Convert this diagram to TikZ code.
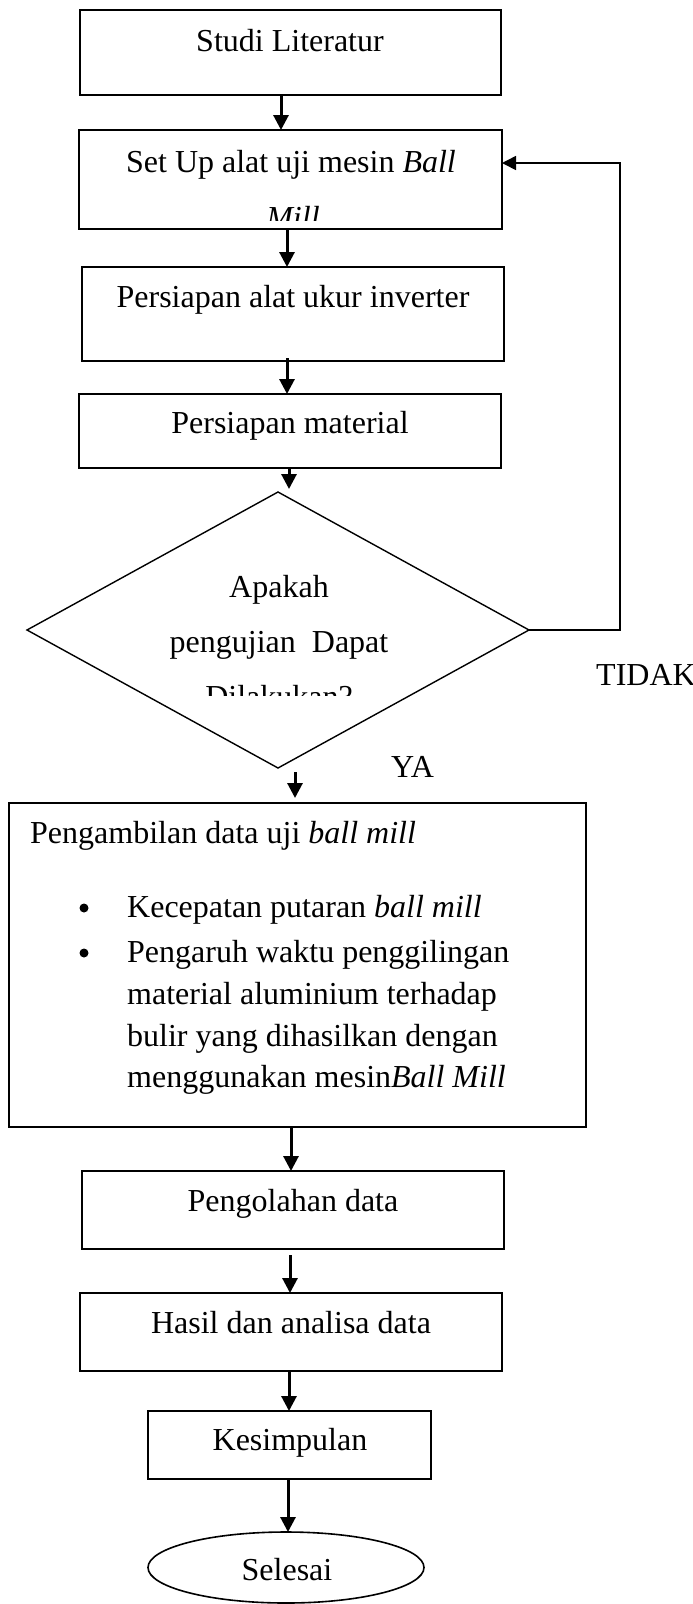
\documentclass[tikz,border=0pt]{standalone}
\usepackage{fontspec}
\setmainfont{Liberation Serif}
\usetikzlibrary{arrows.meta}
\usetikzlibrary{shapes.geometric}

\tikzset{
  box/.style={draw, line width=1.6pt, inner sep=0pt, outer sep=0pt},
  flow/.style={line width=3pt, -{Triangle[length=15pt,width=15pt]}},
  txt/.style={anchor=base, inner sep=0pt, font=\fontsize{32}{40}\selectfont},
}

\begin{document}
\begin{tikzpicture}[x=1pt,y=-1pt]
  \useasboundingbox (0,0) rectangle (693,1604);

  % Boxes
  \node[box, minimum width=421pt, minimum height=85pt] (lit) at (290.5,52.5) {};
  \node[box, minimum width=423pt, minimum height=99pt] (setup) at (290.5,179.5) {};
  \node[box, minimum width=422pt, minimum height=94pt] (inv) at (293,314) {};
  \node[box, minimum width=422pt, minimum height=74pt] (mat) at (290,431) {};
  \node[box, diamond, line width=1.4pt, minimum width=502pt, minimum height=276pt] (dia) at (278,630) {};
  \node[box, minimum width=577pt, minimum height=324pt] (data) at (297.5,965) {};
  \node[box, minimum width=422pt, minimum height=78pt] (olah) at (293,1210) {};
  \node[box, minimum width=422pt, minimum height=78pt] (hasil) at (291,1332) {};
  \node[box, minimum width=283pt, minimum height=68pt] (kes) at (289.5,1445) {};
  \node[box, ellipse, minimum width=276pt, minimum height=71pt] (end) at (286,1567.5) {};

  % Texts
  \node[txt] (t-lit) at (290,51) {Studi Literatur};
  \node[txt] (t-setup) at (291,172) {Set Up alat uji mesin \textit{Ball}};
  \begin{scope}
    \clip (0,0) rectangle (693,220);
    \node[txt] (t-mill) at (293,228) {\textit{Mill}};
  \end{scope}
  \node[txt] (t-inv) at (293,307) {Persiapan alat ukur inverter};
  \node[txt] (t-mat) at (290,433) {Persiapan material};
  \node[txt] (t-dia1) at (279,597) {Apakah};
  \node[txt] (t-dia2) at (279,652) {pengujian\ \ Dapat};
  \begin{scope}
    \clip (0,0) rectangle (693,695);
    \node[txt] (t-dia3) at (279,707) {Dilakukan?};
  \end{scope}
  \node[txt, anchor=base west] (tidak) at (596,685) {TIDAK};
  \node[txt, anchor=base west] (ya) at (391,777) {YA};
  \node[txt, anchor=base west] (t-data) at (30,843) {Pengambilan data uji \textit{ball mill}};
  \foreach \yy/\line [count=\i] in {917/{Kecepatan putaran \textit{ball mill}},
      962/{Pengaruh waktu penggilingan},
      1004/{material aluminium terhadap},
      1046/{bulir yang dihasilkan dengan},
      1087/{menggunakan mesin\textit{Ball Mill}}}
    \node[txt, anchor=base west] (b\i) at (127,\yy) {\line};
  % Bullets
  \foreach \yy in {908,953}
    \fill (84,\yy) circle (4.5);
  \node[txt] (t-olah) at (293,1211) {Pengolahan data};
  \node[txt] (t-hasil) at (291,1333) {Hasil dan analisa data};
  \node[txt] (t-kes) at (290,1450) {Kesimpulan};
  \node[txt] (t-end) at (287,1580) {Selesai};

  % Arrows
  \draw[flow] ([xshift=-9.5pt]lit.south) -- ([xshift=-9.5pt]lit.south |- setup.north);
  \draw[flow] ([xshift=-3.5pt]setup.south) -- ([xshift=-3.5pt]setup.south |- inv.north);
  \draw[flow] ([xshift=-6pt,yshift=3pt]inv.south) -- ([xshift=-6pt]inv.south |- mat.north);
  \draw[flow] ([xshift=-1pt]mat.south) -- ([xshift=11pt,yshift=3pt]dia.north);
  \draw[flow] ([xshift=17pt,yshift=-4pt]dia.south) -- ([xshift=17pt,yshift=5pt]dia.south |- data.north);
  \draw[flow] ([xshift=-6.5pt]data.south) -- ([xshift=-6.5pt]data.south |- olah.north);
  \draw[flow] ([xshift=-3pt,yshift=-6pt]olah.south) -- ([xshift=-3pt]olah.south |- hasil.north);
  \draw[flow] ([xshift=-2pt]hasil.south) -- ([xshift=-2pt]hasil.south |- kes.north);
  \draw[flow] ([xshift=-1.5pt]kes.south) -- ([xshift=-1.5pt]kes.south |- end.north);

  % Loop back
  \coordinate (ret) at (620,163);
  \draw[line width=1.6pt, -{Triangle[length=14pt,width=14pt]}] (dia.east) -| (ret) -- (setup.east |- ret);
\end{tikzpicture}
\end{document}
